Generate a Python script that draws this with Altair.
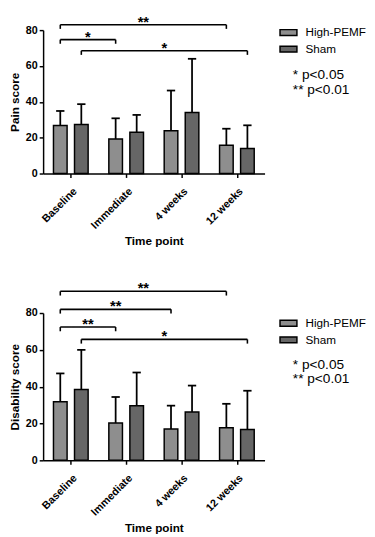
import json
import altair as alt
import pandas as pd

timepoints = ["Baseline", "Immediate", "4 weeks", "12 weeks"]
groups = ["High-PEMF", "Sham"]

pain_high_mean = [26.8, 19.3, 23.9, 15.8]
pain_high_sd = [8.1, 11.5, 22.4, 9.2]
pain_sham_mean = [27.4, 23.0, 34.0, 14.0]
pain_sham_sd = [11.3, 9.7, 30.0, 12.9]

dis_high_mean = [31.8, 20.3, 17.0, 17.7]
dis_high_sd = [15.4, 14.1, 12.7, 13.0]
dis_sham_mean = [38.5, 29.7, 26.3, 16.8]
dis_sham_sd = [21.5, 18.0, 14.3, 21.0]

# significance brackets: from (timepoint, group) to (timepoint, group)
pain_br_from = [("Baseline", "High-PEMF"), ("Baseline", "High-PEMF"), ("Baseline", "Sham")]
pain_br_to = [("12 weeks", "High-PEMF"), ("Immediate", "High-PEMF"), ("12 weeks", "Sham")]
pain_br_stars = ["**", "*", "*"]
pain_br_level = [83.0, 74.7, 68.5]

dis_br_from = [("Baseline", "High-PEMF"), ("Baseline", "High-PEMF"),
               ("Baseline", "High-PEMF"), ("Baseline", "Sham")]
dis_br_to = [("12 weeks", "High-PEMF"), ("4 weeks", "High-PEMF"),
             ("Immediate", "High-PEMF"), ("12 weeks", "Sham")]
dis_br_stars = ["**", "**", "**", "*"]
dis_br_level = [91.8, 82.0, 72.4, 65.7]

sig_text = {"*": "* p<0.05", "**": "** p<0.01"}

FONT = "Liberation Sans"
OFFSET = {"High-PEMF": -0.19, "Sham": 0.19}
HALF_BAR = 0.123
HALF_CAP = 0.075
DROP = 2.3


def pos(tp, grp):
    return timepoints.index(tp) + 0.5 + OFFSET[grp]


def panel(hm, hs, sm, ss, bfrom, bto, bstars, blevel, ytitle, h, leg1_y, leg2_y):
    rows = []
    for grp, means, sds in [("High-PEMF", hm, hs), ("Sham", sm, ss)]:
        for tp, m, s in zip(timepoints, means, sds):
            rows.append({"tp": tp, "group": grp, "mean": m, "sd": s})
    bars = pd.DataFrame(rows)
    bars["pos"] = [pos(t, g) for t, g in zip(bars.tp, bars.group)]

    br = []
    ends = []
    for f, t, st, lv in zip(bfrom, bto, bstars, blevel):
        xa, xb = pos(*f), pos(*t)
        br.append({"xa": xa, "xb": xb, "xm": (xa + xb) / 2, "lv": lv,
                   "stars": st, "sig": sig_text[st]})
        ends.append({"x": xa, "lv": lv})
        ends.append({"x": xb, "lv": lv})
    brdf = pd.DataFrame(br)
    endf = pd.DataFrame(ends)

    xscale = alt.Scale(domain=[0, 4], nice=False, zero=False)
    yscale = alt.Scale(domain=[0, 80], nice=False)
    label_expr = json.dumps(timepoints) + "[floor(datum.value)]"
    xaxis = alt.Axis(values=[0.5, 1.5, 2.5, 3.5], labelExpr=label_expr,
                     title="Time point", labelAngle=-45, labelAlign="right",
                     labelBaseline="top", grid=False, labelOverlap=False,
                     labelPadding=8, titlePadding=6)
    yaxis = alt.Axis(values=[0, 20, 40, 60, 80], title=ytitle, grid=False,
                     labelOverlap=False)

    def X(f):
        return alt.X(f, scale=xscale, axis=xaxis)

    def Y(f):
        return alt.Y(f, scale=yscale, axis=yaxis)

    base = alt.Chart(bars).transform_calculate(
        x0=f"datum.pos - {HALF_BAR}", x1=f"datum.pos + {HALF_BAR}",
        c0=f"datum.pos - {HALF_CAP}", c1=f"datum.pos + {HALF_CAP}",
        top="datum.mean + datum.sd", zero="0")

    rect = base.mark_rect(stroke="black", strokeWidth=1.5).encode(
        x=X("x0:Q"), x2="x1:Q", y=Y("mean:Q"), y2="zero:Q",
        fill=alt.Fill("group:N", scale=alt.Scale(domain=groups, range=["#8e8e8e", "#666666"]),
                      legend=alt.Legend(title=None, orient="none", legendX=242, legendY=leg1_y,
                                        symbolType="M-1,-0.35H1V0.35H-1Z", symbolSize=300,
                                        symbolStrokeColor="black", symbolStrokeWidth=1.5,
                                        labelFontSize=12, labelFont=FONT, labelOffset=8,
                                        rowPadding=1, padding=0)),
    )
    err = base.mark_rule(color="black", strokeWidth=1.8).encode(
        x=X("pos:Q"), y=Y("mean:Q"), y2="top:Q")
    cap = base.mark_rule(color="black", strokeWidth=1.8).encode(
        x=X("c0:Q"), x2="c1:Q", y=Y("top:Q"))

    bline = alt.Chart(brdf).mark_rule(color="black", strokeWidth=1.6).encode(
        x=X("xa:Q"), x2="xb:Q", y=Y("lv:Q"),
        strokeDash=alt.StrokeDash(
            "sig:N",
            scale=alt.Scale(domain=["* p<0.05", "** p<0.01"], range=[[1, 0], [1, 0]]),
            legend=alt.Legend(title=None, orient="none", legendX=242, legendY=leg2_y,
                              symbolSize=0, symbolOpacity=0, symbolStrokeWidth=0,
                              labelOffset=0, labelFontSize=14, labelFont=FONT,
                              rowPadding=1, padding=0)))
    bend = alt.Chart(endf).transform_calculate(lo=f"datum.lv - {DROP}").mark_rule(
        color="black", strokeWidth=1.6).encode(x=X("x:Q"), y=Y("lv:Q"), y2="lo:Q")
    stars = alt.Chart(brdf).mark_text(fontSize=15, fontWeight="bold", font=FONT,
                                      baseline="alphabetic", dy=2).encode(
        x=X("xm:Q"), y=Y("lv:Q"), text="stars:N")

    return alt.layer(rect, err, cap, bline, bend, stars).resolve_scale(
        fill="independent", strokeDash="independent").properties(width=227, height=h)


top = panel(pain_high_mean, pain_high_sd, pain_sham_mean, pain_sham_sd,
            pain_br_from, pain_br_to, pain_br_stars, pain_br_level, "Pain score",
            147, -7, 39)
bottom = panel(dis_high_mean, dis_high_sd, dis_sham_mean, dis_sham_sd,
               dis_br_from, dis_br_to, dis_br_stars, dis_br_level, "Disability score",
               151, 1, 46)

chart = alt.vconcat(top, bottom, spacing=34).resolve_scale(
    fill="independent", strokeDash="independent").resolve_legend(
    fill="independent", strokeDash="independent").properties(
    padding={"left": 0, "top": 0, "right": 0, "bottom": 0}, background="white"
).configure_view(stroke=None).configure_axis(
    labelFont=FONT, titleFont=FONT, labelFontWeight="bold", titleFontWeight="bold",
    labelFontSize=11, titleFontSize=12, labelColor="black", titleColor="black",
    domainColor="black", tickColor="black", domainWidth=1.5, tickWidth=1.5, tickSize=4
)

chart.save("out.html", embed_options={"renderer": "svg", "actions": False})
